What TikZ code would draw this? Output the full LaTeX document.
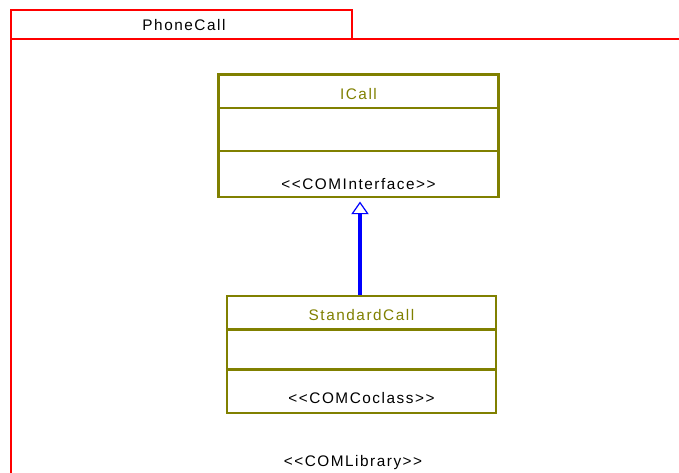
\documentclass[tikz,border=0pt]{standalone}
\usepackage{fontspec}
\setmainfont{Liberation Sans}[Ligatures=TeXOff,LetterSpace=10]
\usetikzlibrary{arrows.meta}
\definecolor{pkgred}{RGB}{255,0,0}
\definecolor{umlolive}{RGB}{128,128,0}
\definecolor{genblue}{RGB}{0,0,255}

\begin{document}
\begin{tikzpicture}[x=0.75pt,y=0.75pt,yscale=-1,xscale=1,
    pkgline/.style={draw=pkgred,line width=1.8pt},
    classbox/.style={draw=umlolive,line width=1.8pt,inner sep=0pt},
    compline/.style={draw=umlolive,line width=1.8pt},
    clsname/.style={text=umlolive,font=\fontsize{11.5}{14}\selectfont,inner sep=0.75pt},
    stereo/.style={text=black,font=\fontsize{11.5}{14}\selectfont,inner sep=0.75pt},
    realize/.style={draw=genblue,line width=2.6pt,shorten >=2.5pt,-{Triangle[open,width=13pt,length=9.5pt,line width=0.9pt]}}]
        %set diagram size 679 x 473
        \useasboundingbox (0,0) rectangle (679,473);
        
        %Shape: Package tab
        \draw[pkgline] (11,39) -- (11,10) -- (352,10) -- (352,39) ;
        %Shape: Package body
        \draw[pkgline] (11,480) -- (11,39) -- (685,39) ;
        % Text Node
        \node[stereo] (pkgname) at (184,25) {PhoneCall};
        
        %Shape: Class ICall
        \node[classbox,minimum width=210pt,minimum height=91.9pt] (icall) at (358.5,135.75) {};
        \draw[compline] (icall.west |- 0,108) -- (icall.east |- 0,108) ;
        \draw[compline] (icall.west |- 0,151) -- (icall.east |- 0,151) ;
        % Text Node
        \node[clsname] (icallname) at (icall.north |- 0,94) {ICall};
        % Text Node
        \node[stereo] (icallstereo) at (icall.north |- 0,184) {<<COMInterface>>};
        
        %Shape: Class StandardCall
        \node[classbox,minimum width=201.75pt,minimum height=87.75pt] (scall) at (361.5,354.5) {};
        \draw[compline] (scall.west |- 0,329.5) -- (scall.east |- 0,329.5) ;
        \draw[compline] (scall.west |- 0,369.5) -- (scall.east |- 0,369.5) ;
        % Text Node
        \node[clsname] (scallname) at (scall.north |- 0,315) {StandardCall};
        % Text Node
        \node[stereo] (scallstereo) at (scall.north |- 0,398) {<<COMCoclass>>};
        
        %Straight Lines: realization
        \draw[realize] (scall.north -| 360,0) -- (icall.south -| 360,0) ;
        
        % Text Node
        \node[stereo] (libstereo) at (353,463) {<<COMLibrary>>};
        
\end{tikzpicture}
\end{document}
